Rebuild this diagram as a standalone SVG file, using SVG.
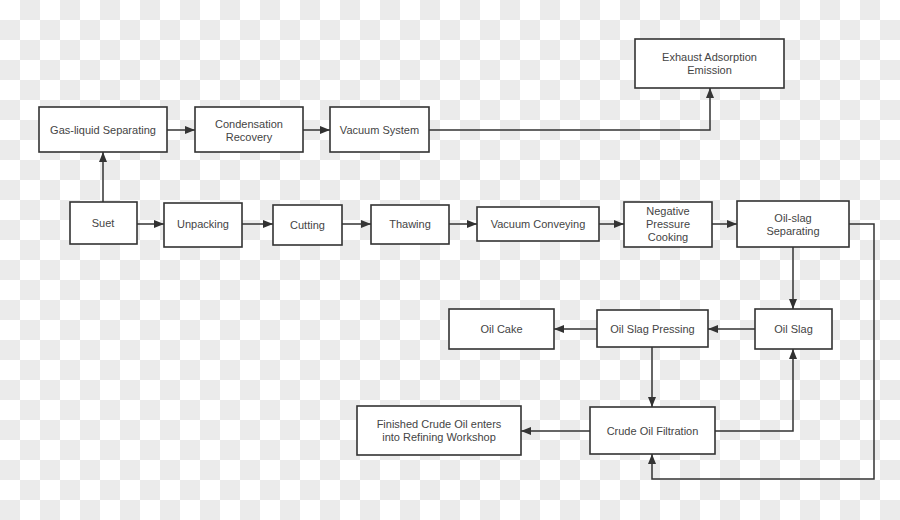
<svg xmlns="http://www.w3.org/2000/svg" width="900" height="520" viewBox="0 0 900 520">
<defs>
<pattern id="checker" width="40" height="40" patternUnits="userSpaceOnUse">
<rect width="40" height="40" fill="#ffffff"/>
<rect x="20" y="0" width="20" height="20" fill="#ebebeb"/>
<rect x="0" y="20" width="20" height="20" fill="#ebebeb"/>
</pattern>
<marker id="arr" viewBox="0 0 10 10" refX="10" refY="5" markerWidth="10" markerHeight="10" markerUnits="userSpaceOnUse" orient="auto">
<path d="M0,1 L10,5 L0,9 Z" fill="#333"/>
</marker>
<style>
.box{fill:#fff;stroke:#333;stroke-width:1.6}
.lbl{font-family:"Liberation Sans",Arial,sans-serif;font-size:11px;fill:#444;text-anchor:middle;dominant-baseline:central}
.con{fill:none;stroke:#333;stroke-width:1.5;marker-end:url(#arr)}
</style>
</defs>
<rect width="900" height="520" fill="url(#checker)"/>
<g id="connectors">
<path class="con" d="M103,202 V152"/>
<path class="con" d="M167,130 H195"/>
<path class="con" d="M303,130 H330"/>
<path class="con" d="M429,130 H710 V88"/>
<path class="con" d="M137,224 H164"/>
<path class="con" d="M242,224 H273"/>
<path class="con" d="M342,224 H371"/>
<path class="con" d="M449,224 H477"/>
<path class="con" d="M599,224 H624"/>
<path class="con" d="M712,224 H737"/>
<path class="con" d="M849,224 H874 V479 H652 V454"/>
<path class="con" d="M793,247 V309"/>
<path class="con" d="M755,329 H708"/>
<path class="con" d="M597,329 H554"/>
<path class="con" d="M652,347 V407"/>
<path class="con" d="M715,431 H793 V349"/>
<path class="con" d="M590,431 H521"/>
</g>
<g id="gas-liquid"><rect class="box" x="39" y="107" width="128" height="45"/><text class="lbl" x="103" y="130">Gas-liquid Separating</text></g>
<g id="condensation"><rect class="box" x="195" y="107" width="108" height="45"/><text class="lbl" x="249" y="123.5">Condensation</text><text class="lbl" x="249" y="136.5">Recovery</text></g>
<g id="vacuum-system"><rect class="box" x="330" y="107" width="99" height="45"/><text class="lbl" x="379.5" y="130">Vacuum System</text></g>
<g id="exhaust"><rect class="box" x="635" y="39" width="149" height="49"/><text class="lbl" x="709.5" y="57">Exhaust Adsorption</text><text class="lbl" x="709.5" y="70">Emission</text></g>
<g id="suet"><rect class="box" x="70" y="202" width="67" height="42"/><text class="lbl" x="103" y="223">Suet</text></g>
<g id="unpacking"><rect class="box" x="164" y="203" width="78" height="44"/><text class="lbl" x="203" y="224">Unpacking</text></g>
<g id="cutting"><rect class="box" x="273" y="205" width="69" height="40"/><text class="lbl" x="307.5" y="225">Cutting</text></g>
<g id="thawing"><rect class="box" x="371" y="205" width="78" height="39"/><text class="lbl" x="410" y="224">Thawing</text></g>
<g id="vacuum-conveying"><rect class="box" x="477" y="207" width="122" height="34"/><text class="lbl" x="538" y="224">Vacuum Conveying</text></g>
<g id="npc"><rect class="box" x="624" y="202" width="88" height="45"/><text class="lbl" x="668" y="211">Negative</text><text class="lbl" x="668" y="224">Pressure</text><text class="lbl" x="668" y="237">Cooking</text></g>
<g id="oil-slag-separating"><rect class="box" x="737" y="201" width="112" height="46"/><text class="lbl" x="793" y="217.5">Oil-slag</text><text class="lbl" x="793" y="230.5">Separating</text></g>
<g id="oil-slag"><rect class="box" x="755" y="309" width="77" height="40"/><text class="lbl" x="793.5" y="329">Oil Slag</text></g>
<g id="oil-slag-pressing"><rect class="box" x="597" y="310" width="111" height="37"/><text class="lbl" x="652.5" y="329">Oil Slag Pressing</text></g>
<g id="oil-cake"><rect class="box" x="449" y="309" width="105" height="40"/><text class="lbl" x="501.5" y="329">Oil Cake</text></g>
<g id="crude-oil-filtration"><rect class="box" x="590" y="407" width="125" height="47"/><text class="lbl" x="652.5" y="431">Crude Oil Filtration</text></g>
<g id="finished"><rect class="box" x="357" y="406" width="164" height="49"/><text class="lbl" x="439" y="424">Finished Crude Oil enters</text><text class="lbl" x="439" y="437">into Refining Workshop</text></g>
</svg>
